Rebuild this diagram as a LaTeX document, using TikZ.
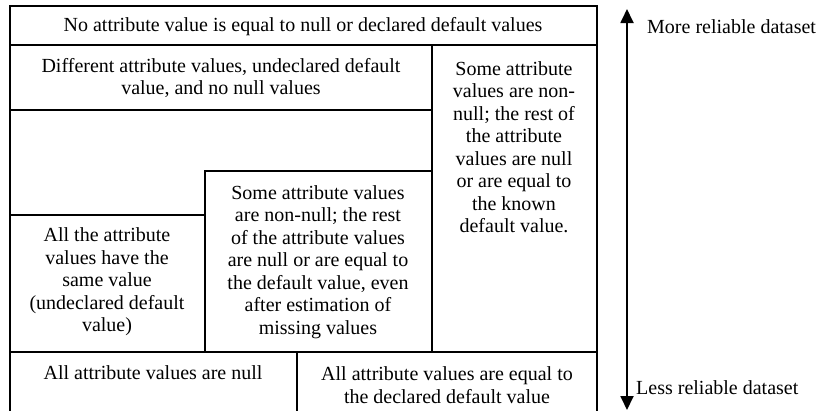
\documentclass[tikz,border=0pt]{standalone}
\usepackage{fontspec}
\setmainfont{Liberation Serif}
\usetikzlibrary{arrows.meta}
\begin{document}
\begin{tikzpicture}[x=1pt,y=-1pt,
  frame/.style={line width=1.6pt,line cap=rect},
  txt/.style={align=center,inner sep=0pt,font=\fontsize{20}{22.5}\selectfont},
  lbl/.style={anchor=west,inner sep=0pt,font=\fontsize{20}{22.5}\selectfont},
  scale arrow/.style={line width=1.8pt,-{Triangle[width=13pt,length=14pt]}}]
\useasboundingbox (0,0) rectangle (819,410);
\clip (0,0) rectangle (819,410);
% frame lines
\draw[frame] (10,412) -- (10,6) -- (597,6) -- (597,412);
\draw[frame] (10,45) -- (597,45);
\draw[frame] (432,45) -- (432,352);
\draw[frame] (10,110) -- (432,110);
\draw[frame] (205,171) -- (432,171);
\draw[frame] (205,171) -- (205,352);
\draw[frame] (10,215) -- (205,215);
\draw[frame] (10,352) -- (597,352);
\draw[frame] (297,352) -- (297,412);
% texts
\node[txt] (top) at (303,27) {No attribute value is equal to null or declared default values};
\node[txt] (diff) at (221,78) {Different attribute values, undeclared default\\value, and no null values};
\node[txt] (right) at (514,147) {Some attribute\\values are non-\\null; the rest of\\the attribute\\values are null\\or are equal to\\the known\\default value.};
\node[txt] (mid) at (318,262) {Some attribute values\\are non-null; the rest\\of the attribute values\\are null or are equal to\\the default value, even\\after estimation of\\missing values};
\node[txt] (left) at (107,282) {All the attribute\\values have the\\same value\\(undeclared default\\value)};
\node[txt] (null) at (153,373) {All attribute values are null};
\node[txt] (decl) at (447,385) {All attribute values are equal to\\the declared default value};
% arrow
\coordinate (amid) at (627,200);
\coordinate (atop) at (627,9);
\coordinate (abot) at (627,410);
\draw[scale arrow] (amid) -- (atop);
\draw[scale arrow] (amid) -- (abot);
\node[lbl] (more) at (647,27) {More reliable dataset};
\node[lbl] (less) at (636,388) {Less reliable dataset};
\end{tikzpicture}
\end{document}
